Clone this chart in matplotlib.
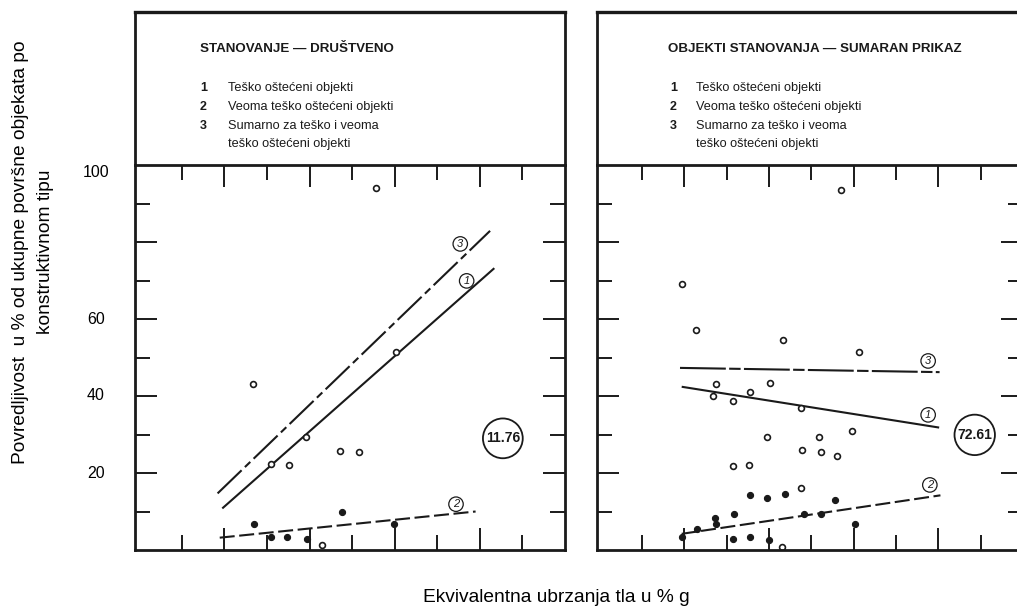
import matplotlib
matplotlib.use("Agg")
import matplotlib.pyplot as plt
from matplotlib.ticker import FixedLocator
from matplotlib.transforms import blended_transform_factory

plt.rcParams['font.family'] = ['Liberation Sans', 'DejaVu Sans']

W, H = 1017, 608

# ---------------- data ----------------
titles = ["STANOVANJE \u2014 DRU\u0160TVENO", "OBJEKTI STANOVANJA \u2014 SUMARAN PRIKAZ"]
legend_nums = ["1", "2", "3", ""]
legend_texts = ["Te\u0161ko o\u0161te\u0107eni objekti",
                "Veoma te\u0161ko o\u0161te\u0107eni objekti",
                "Sumarno za te\u0161ko i veoma",
                "te\u0161ko o\u0161te\u0107eni objekti"]
ylabel = "Povredljivost  u % od ukupne povr\u0161ne objekata po\nkonstruktivnom tipu"
xlabel = "Ekvivalentna ubrzanja tla u % g"
ytick_values = [20, 40, 60, 100]
ytick_labels = ["20", "40", "60", "100"]

# Panel 1 (STANOVANJE - DRUSTVENO)
p1_open_x = [5.57, 2.67, 3.10, 3.52, 3.92, 4.71, 5.15, 6.04, 4.29]
p1_open_y = [94.0, 43.0, 22.3, 22.1, 29.3, 25.8, 25.4, 51.5, 1.2]
p1_fill_x = [2.69, 3.09, 3.47, 3.94, 4.76, 5.98]
p1_fill_y = [6.75, 3.5, 3.5, 2.9, 9.9, 6.75]
p1_line1_x = [1.95, 8.34]; p1_line1_y = [10.8, 73.2]
p1_line2_x = [1.89, 7.90]; p1_line2_y = [3.2, 10.0]
p1_line3_x = [1.84, 8.24]; p1_line3_y = [14.7, 82.9]
p1_lab_x = [7.69, 7.44, 7.54]; p1_lab_y = [69.9, 11.9, 79.5]
p1_value = "11.76"; p1_value_xy = (8.54, 29.0)

# Panel 2 (OBJEKTI STANOVANJA - SUMARAN PRIKAZ)
p2_open_x = [5.70, 1.95, 2.27, 4.34, 6.12, 2.75, 4.02, 2.68, 3.16, 3.56, 4.75,
             3.96, 5.19, 5.97, 4.77, 5.22, 5.60, 3.16, 3.54, 4.76, 4.32]
p2_open_y = [93.5, 69.1, 57.1, 54.5, 51.4, 43.2, 43.3, 40.0, 38.7, 41.0, 37.0,
             29.4, 29.3, 31.0, 26.0, 25.5, 24.4, 21.8, 22.1, 16.2, 0.9]
p2_fill_x = [3.56, 3.96, 4.38, 5.57, 3.17, 2.72, 2.75, 2.31, 1.94, 4.83, 5.24,
             6.04, 3.16, 3.55, 3.99]
p2_fill_y = [14.2, 13.4, 14.5, 13.0, 9.3, 8.3, 6.75, 5.4, 3.5, 9.4, 9.4,
             6.7, 2.9, 3.5, 2.6]
p2_line1_x = [1.94, 8.02]; p2_line1_y = [42.4, 31.8]
p2_line2_x = [1.94, 8.05]; p2_line2_y = [4.2, 14.2]
p2_line3_x = [1.90, 8.03]; p2_line3_y = [47.3, 46.2]
p2_lab_x = [7.76, 7.80, 7.76]; p2_lab_y = [35.1, 16.9, 49.1]
p2_value = "72.61"; p2_value_xy = (8.86, 29.9)

# ---------------- layout helpers ----------------
fig = plt.figure(figsize=(W / 100, H / 100), dpi=100)
fig.patch.set_facecolor("white")

def px_axes(x0, y0, x1, y1):
    return fig.add_axes([x0 / W, 1 - y1 / H, (x1 - x0) / W, (y1 - y0) / H])

INK = "#1a1a1a"
LW = 1.5

def style_plot(ax, xlim):
    ax.set_xlim(*xlim)
    ax.set_ylim(0, 100)
    for s in ax.spines.values():
        s.set_linewidth(2.0)
        s.set_color(INK)
    ax.xaxis.set_major_locator(FixedLocator([2, 4, 6, 8]))
    ax.xaxis.set_minor_locator(FixedLocator([1, 3, 5, 7, 9]))
    ax.yaxis.set_major_locator(FixedLocator([20, 40, 60, 80]))
    ax.yaxis.set_minor_locator(FixedLocator([10, 30, 50, 70, 90]))
    ax.tick_params(which="both", direction="in", top=True, right=True,
                   bottom=True, left=True, labelbottom=False, labelleft=False,
                   color=INK, width=1.4)
    ax.tick_params(which="major", length=16)
    ax.tick_params(which="minor", length=10.5)

def draw_panel(ax, ox, oy, fx, fy, l1x, l1y, l2x, l2y, l3x, l3y, labx, laby,
               val, valxy, dash3):
    ax.plot(l1x, l1y, color=INK, lw=LW, solid_capstyle="butt")
    ax.plot(l2x, l2y, color=INK, lw=LW, linestyle=(0, (7.2, 2.2)))
    ax.plot(l3x, l3y, color=INK, lw=LW, linestyle=(0, dash3))
    ax.plot(ox, oy, linestyle="none", marker="o", ms=4.2, mfc="white",
            mec=INK, mew=1.2)
    ax.plot(fx, fy, linestyle="none", marker="o", ms=4.4, mfc=INK,
            mec=INK, mew=0.8)
    for t, x, y in zip(["1", "2", "3"], labx, laby):
        ax.text(x, y, t, fontsize=8, style="italic", ha="center", va="center",
                color=INK,
                bbox=dict(boxstyle="circle,pad=0.2", fc="white", ec=INK, lw=0.9))
    ax.text(valxy[0], valxy[1], val, fontsize=10, fontweight="bold",
            ha="center", va="center", color=INK,
            bbox=dict(boxstyle="circle,pad=0.2", fc="white", ec=INK, lw=1.3))

def draw_header(ax, title, x_title, x_num, x_text):
    ax.set_xlim(0, 1); ax.set_ylim(0, 1)
    ax.set_xticks([]); ax.set_yticks([])
    for s in ax.spines.values():
        s.set_linewidth(2.0)
        s.set_color(INK)
    ax.spines["top"].set_linewidth(2.4)
    ax.spines["bottom"].set_visible(False)
    tr = ax.transAxes
    x0 = ax.get_position().x0 * W
    w = ax.get_position().width * W
    def fx(px):
        return (px - x0) / w
    def fyy(py):
        return (165 - py) / 153
    ax.text(fx(x_title), fyy(49), title, transform=tr, fontsize=9.6,
            fontweight="bold", ha="left", va="center", color=INK)
    for n, t, py in zip(legend_nums, legend_texts, [88, 107, 126, 144]):
        if n:
            ax.text(fx(x_num), fyy(py), n, transform=tr, fontsize=9,
                    fontweight="bold", ha="left", va="center", color=INK)
        ax.text(fx(x_text), fyy(py), t, transform=tr, fontsize=9.2,
                ha="left", va="center", color=INK)

# Panel 1
h1 = px_axes(135, 12, 565, 165)
draw_header(h1, titles[0], 200, 200, 228)
a1 = px_axes(135, 165, 565, 550)
style_plot(a1, (-0.1, 10.0))
draw_panel(a1, p1_open_x, p1_open_y, p1_fill_x, p1_fill_y,
           p1_line1_x, p1_line1_y, p1_line2_x, p1_line2_y,
           p1_line3_x, p1_line3_y, p1_lab_x, p1_lab_y, p1_value, p1_value_xy,
           (16, 2.2, 3.6, 2.2))

# Panel 2 (cut at the right edge like the scan)
h2 = px_axes(597, 12, 1023, 165)
draw_header(h2, titles[1], 668, 670, 696)
a2 = px_axes(597, 165, 1023, 550)
style_plot(a2, (-0.06, 10.0))
draw_panel(a2, p2_open_x, p2_open_y, p2_fill_x, p2_fill_y,
           p2_line1_x, p2_line1_y, p2_line2_x, p2_line2_y,
           p2_line3_x, p2_line3_y, p2_lab_x, p2_lab_y, p2_value, p2_value_xy,
           (22, 1.6, 5.5, 1.6))

# Outer y tick labels (left of panel 1)
btr = blended_transform_factory(fig.transFigure, a1.transData)
for v, s in zip(ytick_values, ytick_labels):
    a1.text(96 / W, v, s, transform=btr, fontsize=11.5, ha="center",
            va="top" if v == 100 else "center", color="black", clip_on=False)

# Axis titles
fig.text(33 / W, 1 - 252 / H, ylabel, rotation=90, fontsize=13.8,
         ha="center", va="center", multialignment="center", linespacing=1.62)
fig.text(556 / W, 1 - 597 / H, xlabel, fontsize=13.8, ha="center", va="center")

fig.savefig("out.png", dpi=100, facecolor="white")
